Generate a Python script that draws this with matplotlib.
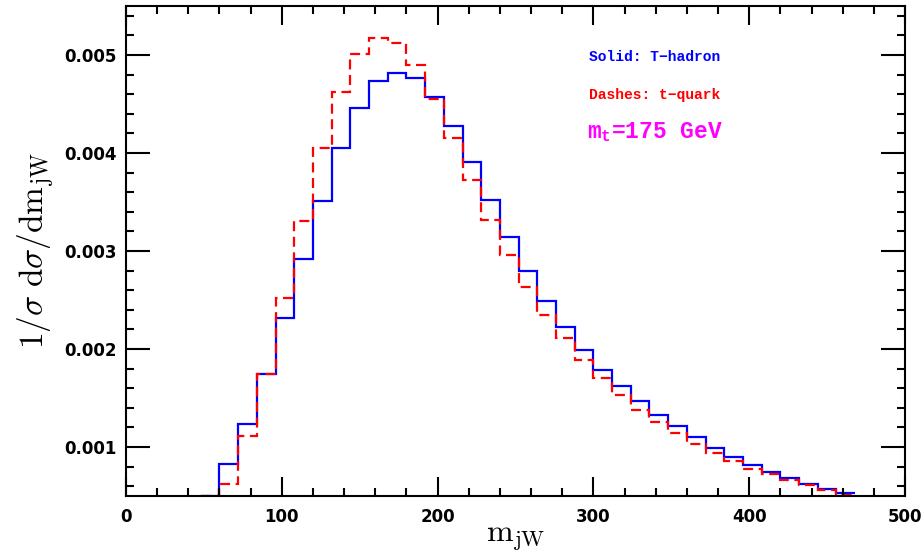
import matplotlib
matplotlib.use("Agg")
import matplotlib.pyplot as plt
from matplotlib.ticker import MultipleLocator

# bin edges of m_jW (GeV)
bin_edges = [48, 60, 72, 84, 96, 108, 120, 132, 144, 156, 168, 180, 192, 204,
             216, 228, 240, 252, 264, 276, 288, 300, 312, 324, 336, 348, 360,
             372, 384, 396, 408, 420, 432, 444, 456, 468]

# T-hadron (solid)
hadron = [0.00050, 0.00083, 0.00123, 0.00174, 0.00232, 0.00292, 0.00351,
          0.00405, 0.00446, 0.00473, 0.00482, 0.00477, 0.00457, 0.00428,
          0.00391, 0.00352, 0.00314, 0.00280, 0.00249, 0.00222, 0.00199,
          0.00179, 0.00162, 0.00147, 0.00133, 0.00121, 0.00110, 0.00099,
          0.00090, 0.00082, 0.00075, 0.00068, 0.00062, 0.00057, 0.00053]

# t-quark (dashed)
quark = [0.00050, 0.00062, 0.00111, 0.00175, 0.00252, 0.00331, 0.00405,
         0.00462, 0.00501, 0.00517, 0.00512, 0.00490, 0.00455, 0.00415,
         0.00372, 0.00332, 0.00296, 0.00263, 0.00235, 0.00211, 0.00189,
         0.00170, 0.00153, 0.00138, 0.00126, 0.00114, 0.00103, 0.00094,
         0.00086, 0.00078, 0.00072, 0.00066, 0.00061, 0.00056, 0.00051]

fig = plt.figure(figsize=(9.24, 5.57), dpi=100)
ax = fig.add_axes([126 / 924, 1 - 496 / 557, (905 - 126) / 924, (496 - 6) / 557])

ax.stairs(hadron, bin_edges, color="#0000ff", lw=1.6, baseline=None)
ax.stairs(quark, bin_edges, color="#ff0000", lw=1.6, ls=(0, (4.5, 2.5)), baseline=None)

ax.set_xlim(0, 500)
ax.set_ylim(0.0005, 0.0055)

ax.xaxis.set_major_locator(MultipleLocator(100))
ax.xaxis.set_minor_locator(MultipleLocator(20))
ax.yaxis.set_major_locator(MultipleLocator(0.001))
ax.yaxis.set_minor_locator(MultipleLocator(0.0002))
ax.yaxis.set_major_formatter(plt.FuncFormatter(lambda v, p: f"{v:.3f}"))

ax.tick_params(which="both", direction="in", top=True, right=True, width=1.5)
ax.tick_params(which="major", axis="x", length=14)
ax.tick_params(which="major", axis="y", length=17)
ax.tick_params(which="minor", length=6)
ax.tick_params(axis="x", pad=9)
ax.tick_params(axis="y", pad=7)
for s in ax.spines.values():
    s.set_linewidth(1.5)

for lab in ax.get_xticklabels() + ax.get_yticklabels():
    lab.set_fontfamily("DejaVu Sans")
    lab.set_fontweight("bold")
    lab.set_fontsize(12)

ax.set_xlabel(r"$\mathrm{m_{jW}}$", fontsize=23, math_fontfamily="cm", labelpad=-3)
ax.set_ylabel(r"$1/\sigma\ \mathrm{d}\sigma/\mathrm{dm_{jW}}$", fontsize=24,
              math_fontfamily="cm", labelpad=5)

plt.rcParams["mathtext.fontset"] = "custom"
plt.rcParams["mathtext.bf"] = "Liberation Mono:bold"
plt.rcParams["mathtext.rm"] = "Liberation Mono:bold"

ax.text(297, 0.00498, "Solid: T\u2212hadron", color="#0000ff", va="center", ha="left",
        family="Liberation Mono", weight="bold", fontsize=10.5)
ax.text(297, 0.00459, "Dashes: t\u2212quark", color="#ff0000", va="center", ha="left",
        family="Liberation Mono", weight="bold", fontsize=10.5)
ax.text(296, 0.00421, r"m$_\mathbf{t}$=175 GeV", color="#ff00ff", va="center", ha="left",
        family="Liberation Mono", weight="bold", fontsize=16.5, math_fontfamily="custom")

fig.savefig("out.png", dpi=100)
